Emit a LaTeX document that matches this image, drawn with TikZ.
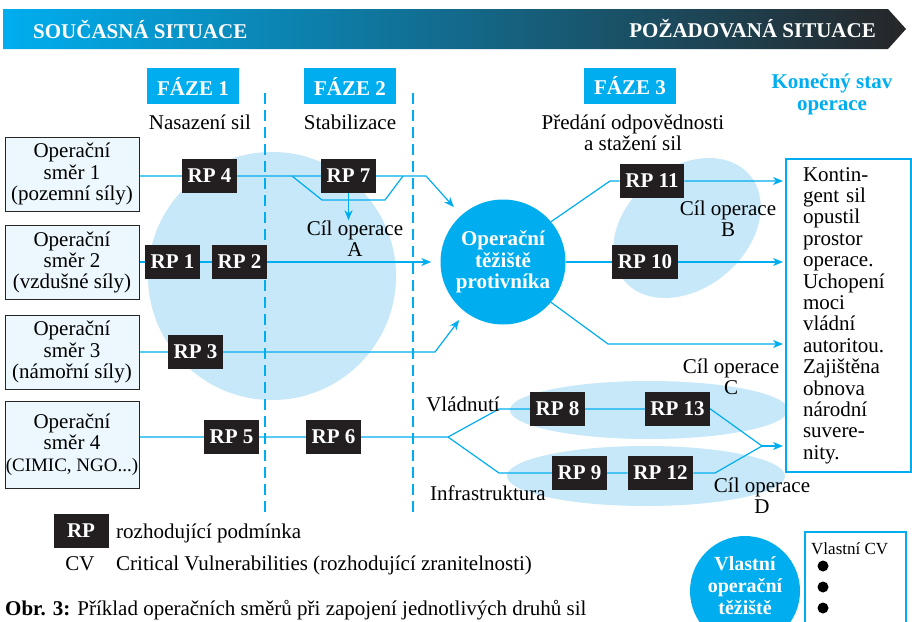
\documentclass[tikz,border=0pt]{standalone}
\usepackage{fontspec}
\setmainfont{Liberation Serif}
\usepackage{tikz}
\usetikzlibrary{arrows.meta,backgrounds}

\definecolor{modra}{RGB}{0,174,239}
\definecolor{svetle}{RGB}{198,232,248}
\definecolor{cerna}{RGB}{35,31,32}
\definecolor{bledy}{RGB}{236,248,253}
\definecolor{tmava}{RGB}{38,38,40}
\definecolor{stred}{RGB}{56,122,142}

\tikzset{
  smer/.style={draw=black!85, fill=bledy, line width=0.9pt, minimum width=134pt, minimum height=74pt, align=center, inner sep=0pt},
  rp/.style={fill=cerna, text=white, font=\bfseries, minimum height=34pt, inner xsep=5.6pt, inner ysep=0pt},
  faze/.style={fill=modra, text=white, font=\bfseries, minimum width=92pt, minimum height=36pt, inner sep=0pt},
  spoj/.style={draw=modra, line width=1.2pt},
  sipka/.style={spoj, -{Stealth[length=10pt,width=8pt,inset=3pt]}},
  deleni/.style={draw=modra, line width=2pt, dash pattern=on 11pt off 6pt},
  popis/.style={align=center, inner sep=0pt},
}

\begin{document}
\begin{tikzpicture}[x=1pt,y=-1pt]
\fontsize{21}{21.4}\selectfont
\useasboundingbox (0,0) rectangle (912,621);
\clip (0,0) rectangle (912,621);

\begin{scope}[on background layer]
 \fill[white] (0,0) rectangle (912,621);
 \fill[svetle] (272,276) circle (124pt);
 \fill[svetle, rotate around={40:(687,228)}] (687,228) ellipse (82pt and 60pt);
 \fill[svetle] (649,410) ellipse (139pt and 29pt);
 \fill[svetle] (646,476) ellipse (139pt and 30pt);
\end{scope}

\shade[left color=modra, middle color=stred, right color=tmava] (3,9) -- (888,9) -- (906,29) -- (888,49) -- (3,49) -- cycle;
   \draw (33,29) node[anchor=west, text=white, font=\bfseries, inner sep=0pt] (soucasna) {SOUČASNÁ SITUACE};
   \draw (876,29) node[anchor=east, text=white, font=\bfseries, inner sep=0pt] (pozadovana) {POŽADOVANÁ SITUACE};

   \draw (193,86) node[faze] (faze1) {FÁZE 1};
   \draw (350,86) node[faze] (faze2) {FÁZE 2};
   \draw (630,86) node[faze] (faze3) {FÁZE 3};
   \draw (200,122) node (nasazeni) {Nasazení sil};
   \draw (350,122) node (stabilizace) {Stabilizace};
   \draw (633,132.5) node[popis] (predani) {Předání odpovědnosti\\a stažení sil};
   \draw (832,94.5) node[popis, text=modra, font=\bfseries] (konecny) {Konečný stav\\operace};

   \draw (72,174) node[smer] (smer1) {Operační\\směr 1\\(pozemní síly)};
   \draw (72,262.5) node[smer] (smer2) {Operační\\směr 2\\(vzdušné síly)};
   \draw (72,352) node[smer] (smer3) {Operační\\směr 3\\(námořní síly)};
   \draw (72,444.5) node[smer, minimum height=87pt] (smer4) {Operační\\směr 4\\{\fontsize{19}{21.4}\selectfont(CIMIC, NGO...)}};

   \draw (209.5,176) node[rp] (rp4) {RP 4};
   \draw (348.5,176) node[rp] (rp7) {RP 7};
   \draw (172.5,262) node[rp] (rp1) {RP 1};
   \draw (239.5,262) node[rp] (rp2) {RP 2};
   \draw (195.5,352) node[rp] (rp3) {RP 3};
   \draw (231.5,437) node[rp] (rp5) {RP 5};
   \draw (333.5,437) node[rp] (rp6) {RP 6};
   \draw (652,181) node[rp] (rp11) {RP 11};
   \draw (645,262) node[rp] (rp10) {RP 10};
   \draw (557.5,409) node[rp] (rp8) {RP 8};
   \draw (677.5,409) node[rp] (rp13) {RP 13};
   \draw (579.5,473) node[rp] (rp9) {RP 9};
   \draw (660.5,473) node[rp] (rp12) {RP 12};

   \draw (503,262) node[circle, fill=modra, text=white, font=\bfseries, minimum size=125pt, inner sep=0pt, align=center] (tez) {Operační\\těžiště\\protivníka};

   \draw (355,238.5) node[popis] (cilA) {Cíl operace\\A};
   \draw (728,219) node[popis] (cilB) {Cíl operace\\B};
   \draw (731,377) node[popis] (cilC) {Cíl operace\\C};
   \draw (762,496) node[popis] (cilD) {Cíl operace\\D};
   \draw (500,411) node[anchor=base east, inner sep=0pt] (vladnuti) {Vládnutí};
   \draw (430,500) node[anchor=base west, inner sep=0pt] (infra) {Infrastruktura};

   \draw (848.5,315.5) node[draw=modra, fill=white, line width=2pt, minimum width=125pt, minimum height=313pt, text width=91pt, align=left, inner sep=0pt] (stav) {Kontin-\\gent sil\\opustil\\prostor\\operace.\\Uchopení\\moci\\vládní\\autoritou.\\Zajištěna\\obnova\\národní\\suvere-\\nity.};

   \draw (81,530.5) node[rp, minimum width=55pt] (rpleg) {RP};
   \draw (116,538) node[anchor=base west, inner sep=0pt] (rpvysv) {rozhodující podmínka};
   \draw (80,570) node[anchor=base, inner sep=0pt] (cv) {CV};
   \draw (116,570) node[anchor=base west, inner sep=0pt] (cvvysv) {Critical Vulnerabilities (rozhodující zranitelnosti)};

   \draw (745,591) node[circle, fill=modra, minimum size=110pt, inner sep=0pt] (vlastni) {};
   \draw (745,586) node[popis, text=white, font=\fontsize{20}{22}\selectfont\bfseries] (vlastnitext) {Vlastní\\operační\\těžiště};
   \draw (855.5,590) node[draw=modra, fill=white, line width=2pt, minimum width=101pt, minimum height=116pt] (cvbox) {};
   \draw (811,549) node[anchor=west, inner sep=0pt, font=\fontsize{17}{19}\selectfont] (vlastnicv) {Vlastní CV};
   \draw (823,566) node[circle, fill=black, minimum size=11pt, inner sep=0pt] (bod1) {};
   \draw (823,587) node[circle, fill=black, minimum size=11pt, inner sep=0pt] (bod2) {};
   \draw (823,608) node[circle, fill=black, minimum size=11pt, inner sep=0pt] (bod3) {};

   \draw (5,615) node[anchor=base west, inner sep=0pt] (obr) {\textbf{Obr. 3:} Příklad operačních směrů při zapojení jednotlivých druhů sil};

   \coordinate (k1) at (426,176);
   \coordinate (k3) at (435,352);
   \coordinate (t1) at (292,176);
   \coordinate (t2) at (322,200);
   \coordinate (t3) at (385,200);
   \coordinate (t4) at (403,176);
   \coordinate (k11) at (610,181);
   \coordinate (k10) at (608,344);
   \coordinate (k4) at (448,437);
   \coordinate (kv) at (499,409);
   \coordinate (ki) at (499,473);
   \coordinate (kc) at (762,446);
   \coordinate (kd) at (715,473);

\begin{scope}[on background layer]
   \draw[deleni] (265,93) -- (265,516);
   \draw[deleni] (413,93) -- (413,516);

   \draw[sipka, shorten >=11pt] (smer1.east |- rp4) -- (rp4) -- (rp7) -- (k1) -- (tez);
   \draw[spoj] (t1) -- (t2) -- (t3) -- (t4);
   \draw[sipka] (rp7.south) -- (rp7.south |- cilA.north);
   \draw[sipka, shorten >=9pt] (smer2.east |- rp1) -- (rp1) -- (rp2) -- (tez);
   \draw[sipka, shorten >=10pt] (smer3.east |- rp3) -- (rp3) -- (k3) -- (tez);

   \draw[sipka, shorten >=2pt] (tez.40) -- (k11) -- (rp11) -- (stav.west |- rp11);
   \draw[sipka, shorten >=2pt] (tez) -- (rp10) -- (stav.west |- rp10);
   \draw[sipka, shorten >=2pt] (tez.-40) -- (k10) -- (stav.west |- k10);

   \draw[spoj] (smer4.east |- rp5) -- (rp5) -- (rp6) -- (k4) -- (kv) -- (rp8) -- (rp13.east) -- (kc);
   \draw[spoj] (k4) -- (ki) -- (rp9) -- (rp12) -- (kd) -- (kc);
   \draw[sipka, shorten >=2pt] (kc) -- (stav.west |- kc);
\end{scope}

\end{tikzpicture}
\end{document}
